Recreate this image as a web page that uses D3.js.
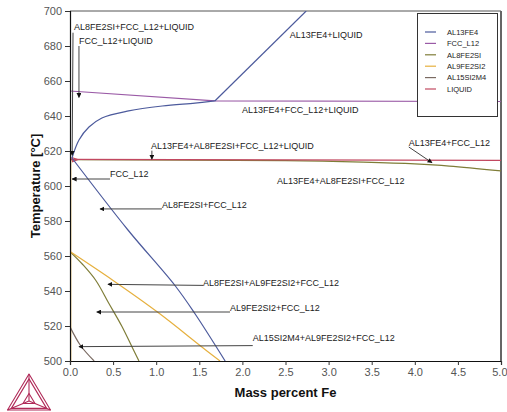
<!DOCTYPE html>
<html>
<head>
<meta charset="utf-8">
<script src="https://cdn.jsdelivr.net/npm/d3@7/dist/d3.min.js"></script>
<style>
  html, body { margin: 0; padding: 0; background: #fff; }
  svg { display: block; font-family: "Liberation Sans", Arial, sans-serif; }
</style>
</head>
<body>
<svg id="chart" width="507" height="412"></svg>
<script>
// Al-Fe-Si isopleth: temperature vs mass percent Fe

const xTicks = [0, 0.5, 1.0, 1.5, 2.0, 2.5, 3.0, 3.5, 4.0, 4.5, 5.0];
const yTicks = [500, 520, 540, 560, 580, 600, 620, 640, 660, 680, 700];

const phases = ["AL13FE4", "FCC_L12", "AL8FE2SI", "AL9FE2SI2", "AL15SI2M4", "LIQUID"];
const phaseColors = ["#4c5a9c", "#9a5aa6", "#7f7d38", "#e6b03e", "#7a6a62", "#c24860"];

// phase boundary lines, [mass % Fe, temperature °C]
const al13fe4Liquidus = [[0.023, 616], [0.104, 626.3], [0.22, 633.7], [0.37, 638.9], [0.68, 642.9],
                         [1.07, 645.7], [1.45, 647.4], [1.68, 648.6]];
const al13fe4Upper = [[1.68, 648.6], [2.74, 700]];
const al13fe4Solvus = [[0.023, 616], [0.67, 575], [1.22, 543], [1.45, 527], [1.80, 500]];
const fccLiquidus = [[0.0, 654.3], [1.68, 648.6], [5.0, 648.3]];
const al8fe2siUpper = [[0.0, 615], [2.5, 614.5], [3.4, 613.6], [4.0, 612.6], [4.4, 611.4], [5.0, 608.6]];
const al8fe2siLower = [[0.0, 562.5], [0.15, 555], [0.3, 546], [0.45, 533], [0.6, 520], [0.72, 508], [0.80, 500]];
const al9fe2si2Line = [[0.0, 562.5], [0.5, 546], [1.03, 527.4], [1.53, 508], [1.74, 500]];
const al9fe2si2Edge = [[0.008, 615], [0.008, 500]];
const al15si2m4Line = [[0.0, 519.5], [0.12, 509], [0.28, 500]];
const liquidLine = [[0.0, 615.2], [5.0, 614.6]];
const liquidCorner = [[0.02, 616.3], [0.09, 615.1], [0.03, 613.9], [0.02, 616.3]];

const boundaries = [
  { pts: al8fe2siUpper, phase: "AL8FE2SI", curve: true },
  { pts: liquidLine, phase: "LIQUID", curve: false },
  { pts: liquidCorner, phase: "LIQUID", curve: false },
  { pts: fccLiquidus, phase: "FCC_L12", curve: false },
  { pts: al13fe4Liquidus, phase: "AL13FE4", curve: true },
  { pts: al13fe4Upper, phase: "AL13FE4", curve: false },
  { pts: al13fe4Solvus, phase: "AL13FE4", curve: true },
  { pts: al8fe2siLower, phase: "AL8FE2SI", curve: true },
  { pts: al9fe2si2Line, phase: "AL9FE2SI2", curve: true },
  { pts: al9fe2si2Edge, phase: "AL9FE2SI2", curve: false },
  { pts: al15si2m4Line, phase: "AL15SI2M4", curve: true }
];

// phase-region labels: text anchor and optional arrow [from, to], in data units
const regionLabels = [
  { text: "AL8FE2SI+FCC_L12+LIQUID", at: [0.046, 689.1], arrow: [[0.035, 687.6], [0.025, 617.5]] },
  { text: "FCC_L12+LIQUID", at: [0.104, 681.4], arrow: [[0.104, 680.0], [0.104, 650.6]] },
  { text: "AL13FE4+LIQUID", at: [2.55, 684.3] },
  { text: "AL13FE4+FCC_L12+LIQUID", at: [1.995, 642.0] },
  { text: "AL13FE4+AL8FE2SI+FCC_L12+LIQUID", at: [0.94, 621.4], arrow: [[0.95, 620.2], [0.95, 615.3]] },
  { text: "AL13FE4+FCC_L12", at: [3.93, 623.1], arrow: [[3.93, 622.3], [4.20, 613.3]] },
  { text: "AL13FE4+AL8FE2SI+FCC_L12", at: [2.40, 601.4] },
  { text: "FCC_L12", at: [0.464, 604.9], arrow: [[0.464, 604.0], [0.025, 604.0]] },
  { text: "AL8FE2SI+FCC_L12", at: [1.067, 587.7], arrow: [[1.067, 586.9], [0.348, 586.9]] },
  { text: "AL8FE2SI+AL9FE2SI2+FCC_L12", at: [1.543, 543.1], arrow: [[1.543, 543.2], [0.44, 543.8]] },
  { text: "AL9FE2SI2+FCC_L12", at: [1.856, 528.3], arrow: [[1.856, 528.0], [0.31, 528.0]] },
  { text: "AL15SI2M4+AL9FE2SI2+FCC_L12", at: [2.12, 511.7], arrow: [[2.12, 508.8], [0.104, 508.2]] }
];

const svg = d3.select("#chart");
const margin = { left: 70, right: 6, top: 11, bottom: 51 };
const W = 507, H = 412;

const x = d3.scaleLinear().domain([0, 5]).range([margin.left, W - margin.right]);
const y = d3.scaleLinear().domain([500, 700]).range([H - margin.bottom, margin.top]);
const color = d3.scaleOrdinal().domain(phases).range(phaseColors);

svg.append("defs").append("marker")
  .attr("id", "arrowhead")
  .attr("viewBox", "0 0 10 10")
  .attr("refX", 9).attr("refY", 5)
  .attr("markerWidth", 5).attr("markerHeight", 5)
  .attr("markerUnits", "userSpaceOnUse")
  .attr("orient", "auto")
  .append("path")
  .attr("d", "M0,0 L10,5 L0,10 Z")
  .attr("fill", "#111");

svg.append("clipPath").attr("id", "plotClip")
  .append("rect")
  .attr("x", x(0)).attr("y", y(700))
  .attr("width", x(5) - x(0)).attr("height", y(500) - y(700));

// frame: top and right borders
svg.append("line")
  .attr("x1", x(0)).attr("x2", x(5)).attr("y1", y(700)).attr("y2", y(700))
  .attr("stroke", "#555").attr("stroke-width", 1);
svg.append("line")
  .attr("x1", x(5)).attr("x2", x(5)).attr("y1", y(700)).attr("y2", y(500))
  .attr("stroke", "#666").attr("stroke-width", 2);

// phase boundaries
const plot = svg.append("g").attr("clip-path", "url(#plotClip)");
const lineSmooth = d3.line().x(d => x(d[0])).y(d => y(d[1])).curve(d3.curveCatmullRom.alpha(0.5));
const lineStraight = d3.line().x(d => x(d[0])).y(d => y(d[1]));

plot.selectAll("path.boundary")
  .data(boundaries)
  .join("path")
  .attr("class", "boundary")
  .attr("d", d => (d.curve ? lineSmooth : lineStraight)(d.pts))
  .attr("fill", "none")
  .attr("stroke", d => color(d.phase))
  .attr("stroke-width", 1.2);

// region labels and pointers
const ann = svg.append("g");
ann.selectAll("line.pointer")
  .data(regionLabels.filter(d => d.arrow))
  .join("line")
  .attr("class", "pointer")
  .attr("x1", d => x(d.arrow[0][0])).attr("y1", d => y(d.arrow[0][1]))
  .attr("x2", d => x(d.arrow[1][0])).attr("y2", d => y(d.arrow[1][1]))
  .attr("stroke", "#444").attr("stroke-width", 1)
  .attr("marker-end", "url(#arrowhead)");

ann.selectAll("text.region")
  .data(regionLabels)
  .join("text")
  .attr("class", "region")
  .attr("x", d => x(d.at[0])).attr("y", d => y(d.at[1]))
  .attr("font-size", 9)
  .attr("fill", "#222")
  .text(d => d.text);

// axes
const yAxis = svg.append("g")
  .attr("transform", `translate(${x(0)},0)`)
  .call(d3.axisLeft(y).tickValues(yTicks).tickSize(5).tickPadding(3).tickFormat(d3.format("d")));
const xAxis = svg.append("g")
  .attr("transform", `translate(0,${y(500)})`)
  .call(d3.axisBottom(x).tickValues(xTicks).tickSize(4).tickPadding(3).tickFormat(d3.format(".1f")));

[xAxis, yAxis].forEach(g => {
  g.select(".domain").attr("stroke", "#111").attr("stroke-width", 1.2);
  g.selectAll(".tick line").attr("stroke", "#333");
  g.selectAll(".tick text")
    .attr("fill", "#555")
    .attr("font-size", 11)
    .attr("font-family", "\"Liberation Sans\", Arial, sans-serif");
});
// keep the last x tick label inside the page edge
xAxis.selectAll(".tick text").filter(d => d === 5.0)
  .attr("text-anchor", "end").attr("dx", "6");

svg.append("text")
  .attr("x", (x(0) + x(5)) / 2).attr("y", 397)
  .attr("text-anchor", "middle")
  .attr("font-size", 13).attr("font-weight", "bold").attr("fill", "#111")
  .text("Mass percent Fe");

svg.append("text")
  .attr("transform", `translate(40,${(y(500) + y(700)) / 2}) rotate(-90)`)
  .attr("text-anchor", "middle")
  .attr("font-size", 13).attr("font-weight", "bold").attr("fill", "#111")
  .text("Temperature [°C]");

// legend
const legend = svg.append("g");
legend.append("rect")
  .attr("x", 417.5).attr("y", 13.5).attr("width", 80).attr("height", 103)
  .attr("fill", "#fff").attr("stroke", "#333").attr("stroke-width", 1);
const rows = legend.selectAll("g.row")
  .data(phases)
  .join("g")
  .attr("class", "row")
  .attr("transform", (d, i) => `translate(0,${32 + i * 11.4})`);
rows.append("line")
  .attr("x1", 425).attr("x2", 436).attr("y1", 0).attr("y2", 0)
  .attr("stroke", d => color(d)).attr("stroke-width", 1.2);
rows.append("text")
  .attr("x", 447).attr("y", 2.7)
  .attr("font-size", 7.5).attr("fill", "#222")
  .text(d => d);

// ternary triangle mark
const logo = svg.append("g")
  .attr("fill", "none").attr("stroke", "#b02a58").attr("stroke-width", 1.1)
  .attr("stroke-linejoin", "round");
const A = [29, 374], B = [7.5, 410], C = [50.5, 410];
const G = [(A[0] + B[0] + C[0]) / 3, (A[1] + B[1] + C[1]) / 3 + 3];
const tri = (p, s) => [A, B, C].map(v => [p[0] + (v[0] - p[0]) * s, p[1] + (v[1] - p[1]) * s]);
const triPath = pts => "M" + pts.map(p => p.join(",")).join("L") + "Z";
logo.append("path").attr("d", triPath(tri(G, 1)));
logo.append("path").attr("d", triPath(tri(G, 0.82)));
logo.append("path").attr("d", triPath(tri(G, 0.28)));
[A, B, C].forEach(v => {
  logo.append("line").attr("x1", v[0]).attr("y1", v[1]).attr("x2", G[0]).attr("y2", G[1]);
});
</script>
</body>
</html>
